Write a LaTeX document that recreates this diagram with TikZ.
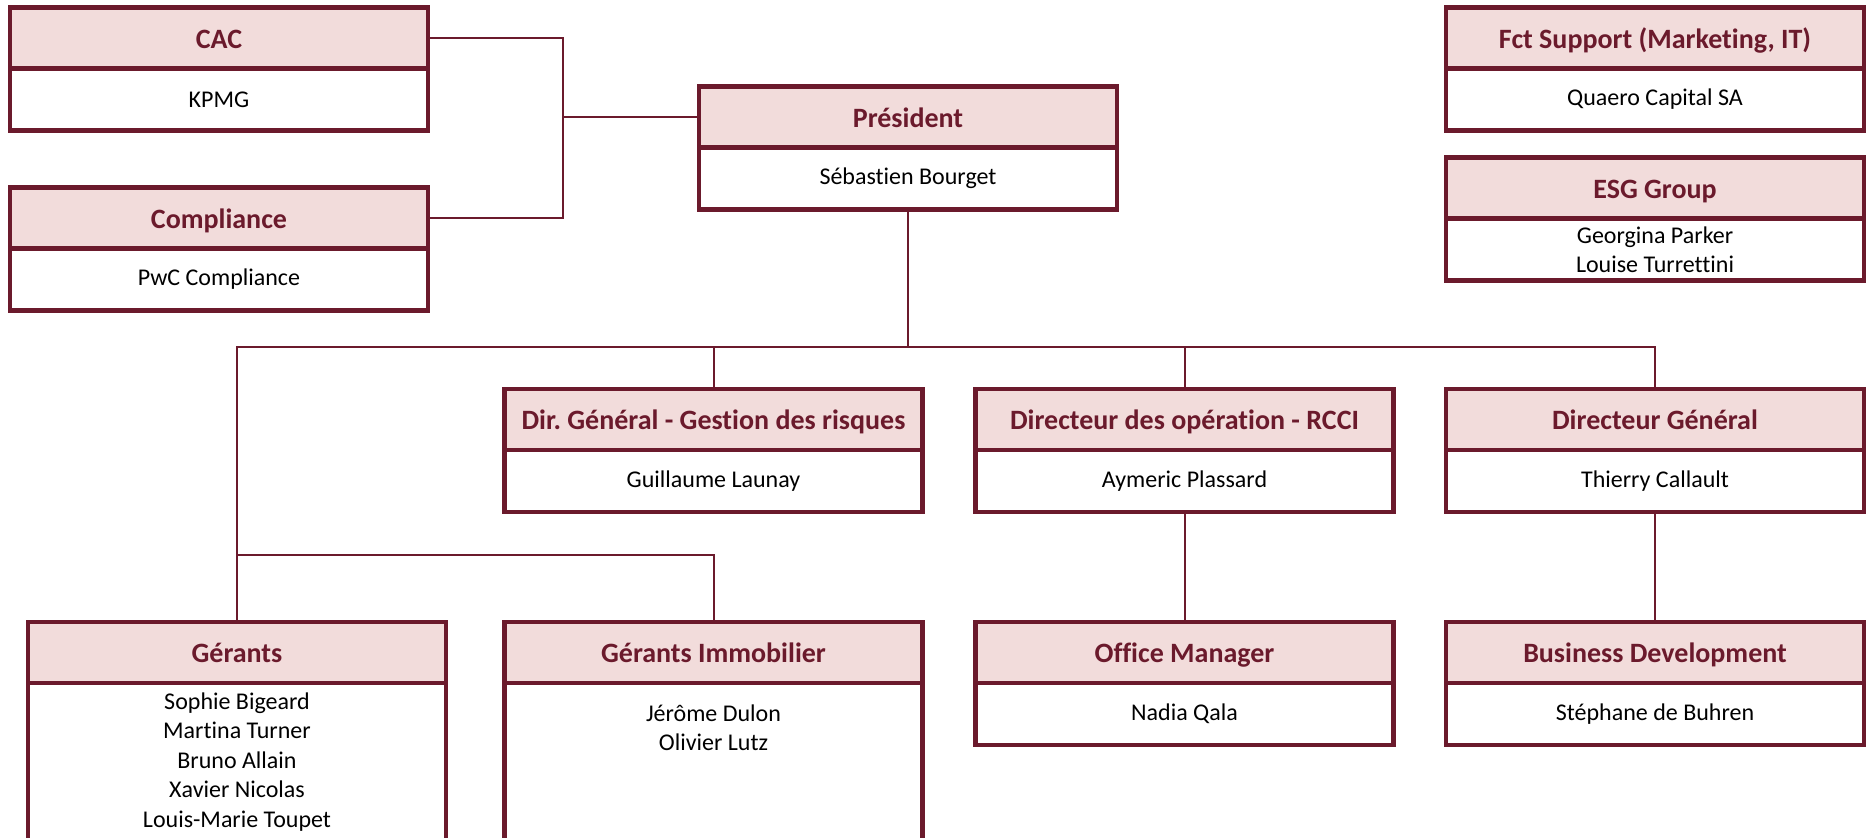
\documentclass[tikz,border=0pt]{standalone}
\usepackage{fontspec}
\setmainfont{Carlito}[Ligatures=NoCommon]
\usetikzlibrary{positioning}
\definecolor{bordeaux}{HTML}{6B1A2C}
\definecolor{rosepale}{HTML}{F2DCDB}
\frenchspacing

\begin{document}
\begin{tikzpicture}[x=0.5pt,y=-0.5pt,
    titre/.style={draw=bordeaux,line width=2.3pt,fill=rosepale,text=bordeaux,outer sep=0pt,inner sep=0pt,
        minimum width=209pt,minimum height=30.5pt,text height=12pt,text depth=2pt,
        font=\fontsize{14}{17}\selectfont\bfseries},
    nom/.style={draw=bordeaux,line width=2.3pt,fill=white,text=black,outer sep=0pt,inner sep=0pt,
        minimum width=209pt,minimum height=31pt,align=center,font=\fontsize{12}{14.75}\selectfont},
    lien/.style={draw=bordeaux,line width=1pt}]
    \useasboundingbox (0,0) rectangle (1871,837);
    \clip (0,0) rectangle (1871,837);
    \node[titre] (cac) at (219,38) {CAC};
    \node[nom,below=0pt of cac] (cac-b) {KPMG};
    \node[titre] (comp) at (219,218) {Compliance};
    \node[nom,below=0pt of comp] (comp-b) {PwC Compliance};
    \node[titre] (pres) at (908,117) {Président};
    \node[nom,below=0pt of pres] (pres-b) {Sébastien Bourget};
    \node[titre] (fct) at (1655,38) {Fct Support (Marketing, IT)};
    \node[nom,below=0pt of fct] (fct-b) {Quaero Capital SA};
    \node[titre] (esg) at (1655,188) {ESG Group};
    \node[nom,below=0pt of esg] (esg-b) {Georgina Parker\\Louise Turrettini};
    \node[titre] (dgr) at (713.5,419.5) {Dir. Général - Gestion des risques};
    \node[nom,below=0pt of dgr] (dgr-b) {Guillaume Launay};
    \node[titre] (ops) at (1184.5,419.5) {Directeur des opération - RCCI};
    \node[nom,below=0pt of ops] (ops-b) {Aymeric Plassard};
    \node[titre] (dg) at (1655,419.5) {Directeur Général};
    \node[nom,below=0pt of dg] (dg-b) {Thierry Callault};
    \node[titre] (ger) at (237,652.5) {Gérants};
    \node[nom,below=0pt of ger,minimum height=79pt] (ger-b)
        {Sophie Bigeard\\Martina Turner\\Bruno Allain\\Xavier Nicolas\\Louis-Marie Toupet};
    \node[titre] (immo) at (713.5,652.5) {Gérants Immobilier};
    \node[nom,below=0pt of immo,minimum height=79pt] (immo-b) {};
    \node[align=center,inner sep=0pt,font=\fontsize{12}{14.75}\selectfont,below=10.5pt of immo-b.north] (immo-t)
        {Jérôme Dulon\\Olivier Lutz};
    \node[titre] (office) at (1184.5,652.5) {Office Manager};
    \node[nom,below=0pt of office] (office-b) {Nadia Qala};
    \node[titre] (bd) at (1655,652.5) {Business Development};
    \node[nom,below=0pt of bd] (bd-b) {Stéphane de Buhren};

    \coordinate (jn) at (563,117);
    \coordinate (bus) at (908,347);
    \coordinate (bus2) at (237,555);
    \draw[lien] (cac.east) -| (jn) |- (comp.east);
    \draw[lien] (jn) -- (pres.west);
    \draw[lien] (pres-b.south) -- (bus);
    \draw[lien] (ger.north) |- (bus) -| (dg.north);
    \draw[lien] (dgr.north) -- (dgr.north |- bus);
    \draw[lien] (ops.north) -- (ops.north |- bus);
    \draw[lien] (bus2) -| (immo.north);
    \draw[lien] (ops-b.south) -- (office.north);
    \draw[lien] (dg-b.south) -- (bd.north);
\end{tikzpicture}
\end{document}
